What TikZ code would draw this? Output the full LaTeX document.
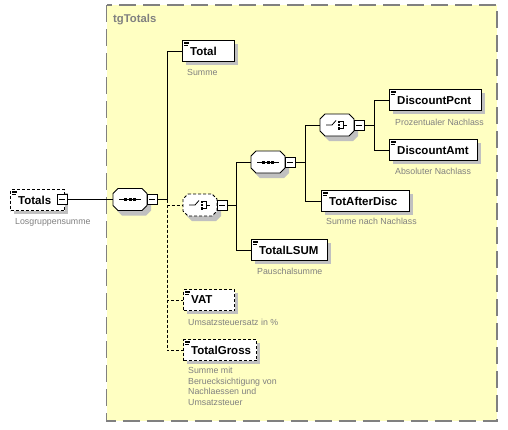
\documentclass[tikz,border=0pt]{standalone}
\usepackage{fontspec}
\setmainfont{Liberation Sans}
\definecolor{grpfill}{RGB}{255,255,194}
\definecolor{grpline}{RGB}{128,128,128}
\definecolor{shadowc}{RGB}{192,192,192}
\definecolor{captc}{RGB}{128,128,128}
\tikzset{
  elbox/.style={draw,fill=white,line width=1.1pt,inner sep=0pt},
  optbox/.style={dash pattern=on 3pt off 2pt},
  nametxt/.style={inner sep=0pt,font=\bfseries\fontsize{11.5}{13}\selectfont},
  captxt/.style={inner sep=0pt,text=captc,font=\fontsize{8.8}{10.7}\selectfont,align=left},
  minusbox/.style={draw,fill=white,minimum size=10pt,inner sep=0pt,line width=0.8pt},
  conn/.style={line width=1pt},
  dashconn/.style={line width=1pt,dash pattern=on 3pt off 2pt},
}
\newcommand\elem[6]{%
  \fill[shadowc] (#2+4,#3+4) rectangle (#2+#4+4,#3+25);
  \node[elbox,#6,minimum width=#4,minimum height=21,anchor=north west] (#1) at (#2,#3) {};
  \node[nametxt,anchor=west] (#1-t) at (#2+8,#3+11) {#5};
  \draw[line width=0.6pt] (#2+2,#3+2) -- (#2+7,#3+2) (#2+2,#3+3.7) -- (#2+7,#3+3.7) (#2+2,#3+5.4) -- (#2+6,#3+5.4);
}
\newcommand\octa[3]{(#1-12,#2-11) -- (#1+12,#2-11) -- (#1+17,#2-6) -- (#1+17,#2+6) -- (#1+12,#2+11) -- (#1-12,#2+11) -- (#1-17,#2+6) -- (#1-17,#2-6) -- cycle}
\newcommand\compo[4]{%
  \fill[shadowc] \octa{#2+4}{#3+5}{};
  \draw[fill=white,line width=0.9pt,#4] \octa{#2}{#3}{};
  \node[inner sep=0pt,minimum width=34,minimum height=22] (#1) at (#2,#3) {};
  \node[minusbox] (#1m) at (#2+22,#3) {};
  \draw[line width=0.8pt] (#2+19,#3) -- (#2+25,#3);
}
\newcommand\seqsym[2]{%
  \draw[line width=0.8pt] (#1-11,#2) -- (#1+11,#2);
  \fill (#1-6,#2-1.5) rectangle ++(3,3);
  \fill (#1-1.5,#2-1.5) rectangle ++(3,3);
  \fill (#1+3,#2-1.5) rectangle ++(3,3);
}
\newcommand\chosym[2]{%
  \draw[line width=0.8pt] (#1-11,#2) -- (#1-5,#2) -- (#1-1,#2-4.5);
  \fill (#1+0.5,#2-4.5) rectangle ++(2.4,2.4);
  \fill (#1+0.5,#2-1.2) rectangle ++(2.4,2.4);
  \fill (#1+0.5,#2+2.1) rectangle ++(2.4,2.4);
  \draw[line width=0.8pt] (#1+3,#2-3.3) -- (#1+6,#2-3.3) -- (#1+6,#2+3.3) -- (#1+3,#2+3.3) (#1+6,#2) -- (#1+10,#2);
}
\begin{document}
\begin{tikzpicture}[x=1pt,y=-1pt]
\useasboundingbox[fill=white] (0,0) rectangle (508,429);
% group
\draw[fill=grpfill,draw=grpline,line width=1.3pt,dash pattern=on 17pt off 7pt] (106.5,5) rectangle (497,421);
\node[inner sep=0pt,anchor=west,text=grpline,font=\bfseries\fontsize{11.3}{13}\selectfont] (grp) at (113,19.5) {tgTotals};

% Totals
\elem{Totals}{10}{189}{54}{Totals}{optbox}
\node[minusbox] (Totalsm) at (62,199.5) {};
\draw[line width=0.8pt] (59,199.5) -- (65,199.5);
\node[captxt,anchor=west] (cTotals) at (15,222) {Losgruppensumme};

% compositors
\compo{seq1}{130}{199.5}{}
\seqsym{130}{199.5}
\compo{ch1}{200}{205}{dash pattern=on 3pt off 2pt}
\chosym{200}{205}
\compo{seq2}{268}{162}{}
\seqsym{268}{162}
\compo{ch2}{337}{125}{}
\chosym{337}{125}

% elements
\elem{Total}{182}{40}{52}{Total}{}
\node[captxt,anchor=west] (cTotal) at (187,72) {Summe};
\elem{DP}{389}{89}{92}{DiscountPcnt}{}
\node[captxt,anchor=west] (cDP) at (395,122) {Prozentualer Nachlass};
\elem{DA}{389}{139}{88}{DiscountAmt}{}
\node[captxt,anchor=west] (cDA) at (395,171.5) {Absoluter Nachlass};
\elem{TAD}{321}{190}{88}{TotAfterDisc}{}
\node[captxt,anchor=west] (cTAD) at (326,221.5) {Summe nach Nachlass};
\elem{LSUM}{251}{239}{76}{TotalLSUM}{}
\node[captxt,anchor=west] (cLSUM) at (257,271) {Pauschalsumme};
\elem{VAT}{183}{289}{51}{VAT}{optbox}
\node[captxt,anchor=west] (cVAT) at (188,322) {Umsatzsteuersatz in \%};
\elem{TG}{183}{339}{73}{TotalGross}{optbox}
\node[captxt,anchor=north west] (cTG) at (188,367) {Summe mit\\Beruecksichtigung von\\Nachlaessen und\\Umsatzsteuer};

% connectors
\coordinate (b1) at (167,199.5);
\coordinate (b2) at (236,205);
\coordinate (b3) at (305,162);
\coordinate (b4) at (374,125);
\draw[conn] (Totalsm.east) -- (seq1.west);
\draw[conn] (seq1m.east) -- (b1);
\draw[conn] (b1) |- (Total.west);
\draw[dashconn] (b1) |- (ch1.west);
\draw[dashconn] (b1) |- (VAT.west);
\draw[dashconn] (b1) |- (TG.west);
\draw[conn] (ch1m.east) -- (b2);
\draw[conn] (b2) |- (seq2.west);
\draw[conn] (b2) |- (LSUM.west);
\draw[conn] (seq2m.east) -- (b3);
\draw[conn] (b3) |- (ch2.west);
\draw[conn] (b3) |- (TAD.west);
\draw[conn] (ch2m.east) -- (b4);
\draw[conn] (b4) |- (DP.west);
\draw[conn] (b4) |- (DA.west);
\end{tikzpicture}
\end{document}
